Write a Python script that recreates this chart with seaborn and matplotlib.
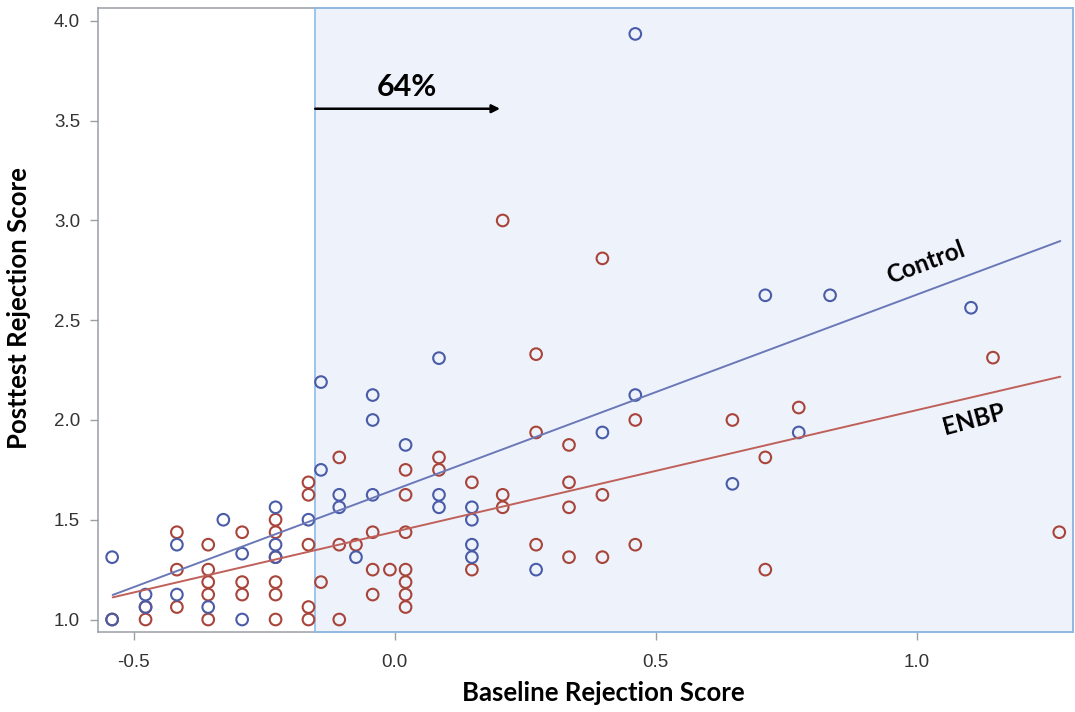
import numpy as np
import pandas as pd
import matplotlib
matplotlib.use("Agg")
import matplotlib.pyplot as plt
import seaborn as sns

# ---------------- data ----------------
control_x = [-0.541, -0.541, -0.477, -0.477, -0.417, -0.417, -0.357, -0.328,
             -0.292, -0.292, -0.228, -0.228, -0.228, -0.165, -0.141, -0.141,
             -0.106, -0.106, -0.074, -0.042, -0.042, -0.042, 0.021, 0.085,
             0.085, 0.085, 0.148, 0.148, 0.148, 0.148, 0.271, 0.398, 0.461,
             0.461, 0.647, 0.710, 0.774, 0.834, 1.104]
control_y = [1.3125, 1.0, 1.125, 1.0625, 1.375, 1.125, 1.0625, 1.5,
             1.33, 1.0, 1.5625, 1.375, 1.3125, 1.5, 2.19, 1.75,
             1.625, 1.5625, 1.3125, 2.125, 2.0, 1.625, 1.875, 2.31,
             1.625, 1.5625, 1.5625, 1.5, 1.375, 1.3125, 1.25, 1.9375, 3.935,
             2.125, 1.68, 2.625, 1.9375, 2.625, 2.5625]

enbp_x = [-0.541, -0.477, -0.477, -0.417, -0.417, -0.417,
          -0.357, -0.357, -0.357, -0.357, -0.357,
          -0.292, -0.292, -0.292,
          -0.228, -0.228, -0.228, -0.228, -0.228, -0.228,
          -0.165, -0.165, -0.165, -0.165, -0.165, -0.141,
          -0.106, -0.106, -0.106, -0.074,
          -0.042, -0.042, -0.042, -0.009,
          0.021, 0.021, 0.021, 0.021, 0.021, 0.021, 0.021,
          0.085, 0.085, 0.148, 0.148,
          0.207, 0.207, 0.207, 0.271, 0.271, 0.271,
          0.334, 0.334, 0.334, 0.334, 0.398, 0.398, 0.398,
          0.461, 0.461, 0.647, 0.710, 0.710, 0.774, 1.146, 1.273]
enbp_y = [1.0, 1.0625, 1.0, 1.4375, 1.25, 1.0625,
          1.375, 1.25, 1.1875, 1.125, 1.0,
          1.4375, 1.1875, 1.125,
          1.5, 1.4375, 1.3125, 1.1875, 1.125, 1.0,
          1.6875, 1.625, 1.375, 1.0625, 1.0, 1.1875,
          1.8125, 1.375, 1.0, 1.375,
          1.4375, 1.25, 1.125, 1.25,
          1.75, 1.625, 1.4375, 1.25, 1.1875, 1.125, 1.0625,
          1.8125, 1.75, 1.6875, 1.25,
          3.0, 1.625, 1.5625, 2.33, 1.9375, 1.375,
          1.875, 1.6875, 1.5625, 1.3125, 2.81, 1.625, 1.3125,
          2.0, 1.375, 2.0, 1.8125, 1.25, 2.0625, 2.3125, 1.4375]

# fitted regression lines (endpoints)
fit_x = [-0.54, 1.275]
control_fit = [1.123, 2.897]
enbp_fit = [1.111, 2.217]

shade_start = -0.152
arrow_end = 0.202
arrow_y = 3.56
pct_label = "64%"

x_ticks = [-0.5, 0.0, 0.5, 1.0]
y_ticks = [1.0, 1.5, 2.0, 2.5, 3.0, 3.5, 4.0]
x_lim = (-0.568, 1.299)
y_lim = (0.939, 4.065)

# ---------------- styling ----------------
sns.set_theme(style="white")
plt.rcParams['font.family'] = ['Liberation Sans', 'DejaVu Sans']
bold_font = ['Lato', 'DejaVu Sans']

blue_pt = "#4a5ca8"
red_pt = "#a8443a"
blue_ln = "#6a78b8"
red_ln = "#c0605a"
spine_c = "#9a9fa4"

fig = plt.figure(figsize=(10.75, 7.12), dpi=100)
ax = fig.add_axes([0.0912, 0.1128, 0.9068, 0.876])

ax.set_xlim(*x_lim)
ax.set_ylim(*y_lim)

# shaded region
ax.axvspan(shade_start, x_lim[1], facecolor="#eef3fb", edgecolor="none", zorder=0)
ax.axvspan(shade_start, x_lim[1], fill=False, edgecolor="#8dbbe6", lw=1.2,
           zorder=3, clip_on=False)

ctrl = pd.DataFrame({"x": control_x, "y": control_y})
enbp = pd.DataFrame({"x": enbp_x, "y": enbp_y})

sns.scatterplot(data=enbp, x="x", y="y", ax=ax, color=red_pt, facecolor="none",
                edgecolor=red_pt, s=70, linewidth=1.5, marker="o", zorder=4)
sns.scatterplot(data=ctrl, x="x", y="y", ax=ax, color=blue_pt, facecolor="none",
                edgecolor=blue_pt, s=70, linewidth=1.5, marker="o", zorder=4)

sns.lineplot(x=fit_x, y=control_fit, ax=ax, color=blue_ln, lw=1.4, zorder=5)
sns.lineplot(x=fit_x, y=enbp_fit, ax=ax, color=red_ln, lw=1.4, zorder=5)

# arrow + percentage
ax.annotate("", xy=(arrow_end, arrow_y), xytext=(shade_start, arrow_y),
            arrowprops=dict(arrowstyle="-|>", color="black", lw=1.8,
                            mutation_scale=12, shrinkA=0, shrinkB=0), zorder=6)
ax.text(0.023, 3.67, pct_label, ha="center", va="center", fontsize=22,
        fontweight="bold", family=bold_font, color="black")

ax.text(1.018, 2.787, "Control", ha="center", va="center", fontsize=17.5,
        fontweight="bold", family=bold_font, rotation=20.5, color="black")
ax.text(1.110, 2.0, "ENBP", ha="center", va="center", fontsize=17.5,
        fontweight="bold", family=bold_font, rotation=15, color="black")

ax.set_xticks(x_ticks)
ax.set_yticks(y_ticks)
ax.set_xticklabels([f"{v:.1f}" for v in x_ticks])
ax.set_yticklabels([f"{v:.1f}" for v in y_ticks])
ax.tick_params(axis="both", which="both", direction="out", length=6, width=1,
               color=spine_c, labelsize=13.5, labelcolor="#333333", pad=7,
               bottom=True, left=True)
ax.tick_params(axis="x", pad=10)
for sp in ax.spines.values():
    sp.set_color(spine_c)
    sp.set_linewidth(1.1)

ax.set_xlabel("Baseline Rejection Score", fontsize=18.5, fontweight="bold",
              family=bold_font, color="black")
ax.set_ylabel("Posttest Rejection Score", fontsize=18.5, fontweight="bold",
              family=bold_font, color="black")
ax.xaxis.set_label_coords(0.518, -0.079)
ax.yaxis.set_label_coords(-0.069, 0.519)

fig.savefig("out.png", dpi=100)
